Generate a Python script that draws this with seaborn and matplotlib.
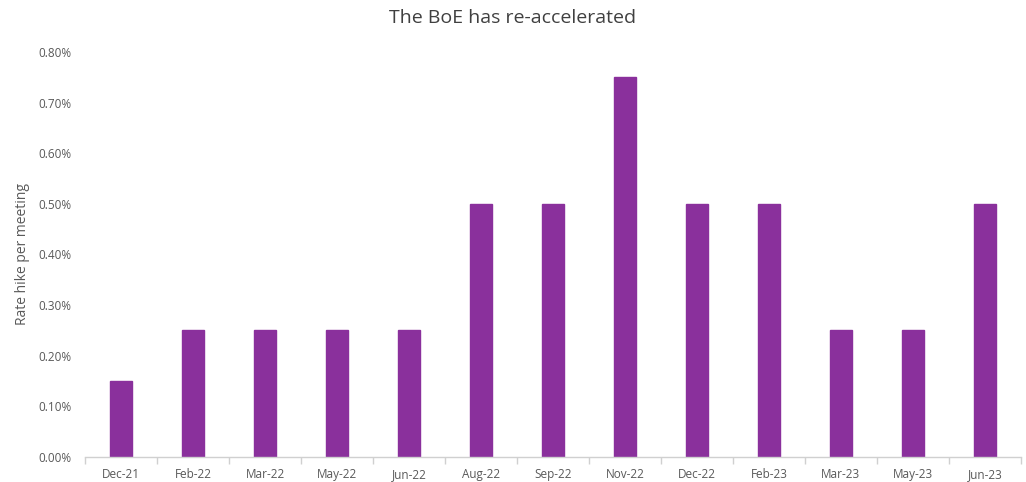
import matplotlib
matplotlib.use("Agg")
import matplotlib.pyplot as plt
import seaborn as sns
import pandas as pd
import numpy as np
from matplotlib.ticker import FuncFormatter, FixedLocator

meetings = ["Dec-21", "Feb-22", "Mar-22", "May-22", "Jun-22", "Aug-22", "Sep-22",
            "Nov-22", "Dec-22", "Feb-23", "Mar-23", "May-23", "Jun-23"]
hikes = [0.15, 0.25, 0.25, 0.25, 0.25, 0.50, 0.50, 0.75, 0.50, 0.50, 0.25, 0.25, 0.50]

sns.set_theme(style="white")
plt.rcParams['font.family'] = ['Open Sans', 'DejaVu Sans']

df = pd.DataFrame({"meeting": meetings, "hike": hikes})

fig = plt.figure(figsize=(10.26, 4.82), dpi=100)
ax = fig.add_axes([0.083, 0.052, 0.912, 0.840])
sns.barplot(data=df, x="meeting", y="hike", color="#8A309C", saturation=1,
            width=0.31, ax=ax, edgecolor="#8A309C")

ax.set_ylim(0, 0.8)
ax.set_xlim(-0.5, len(meetings) - 0.5)
ax.set_yticks(np.arange(0, 0.81, 0.1))
ax.yaxis.set_major_formatter(FuncFormatter(lambda v, p: f"{v:.2f}%"))
ax.set_ylabel("Rate hike per meeting", color="#595959", fontsize=10, labelpad=6)
ax.set_xlabel("")
fig.text(0.5, 0.963, "The BoE has re-accelerated", color="#404040", fontsize=14,
         ha="center", va="center")

for s in ["top", "right", "left"]:
    ax.spines[s].set_visible(False)
ax.spines["bottom"].set_color("#D0D0D0")
ax.spines["bottom"].set_linewidth(1)

ax.tick_params(axis="y", length=0, labelsize=8.5, labelcolor="#595959", pad=10)
ax.tick_params(axis="x", which="major", length=0, labelsize=8.5, labelcolor="#595959", pad=8)
ax.xaxis.set_minor_locator(FixedLocator(np.arange(-0.5, len(meetings), 1.0)))
ax.tick_params(axis="x", which="minor", length=5, color="#D0D0D0", width=1, bottom=True)

fig.savefig("out.png", dpi=100)
